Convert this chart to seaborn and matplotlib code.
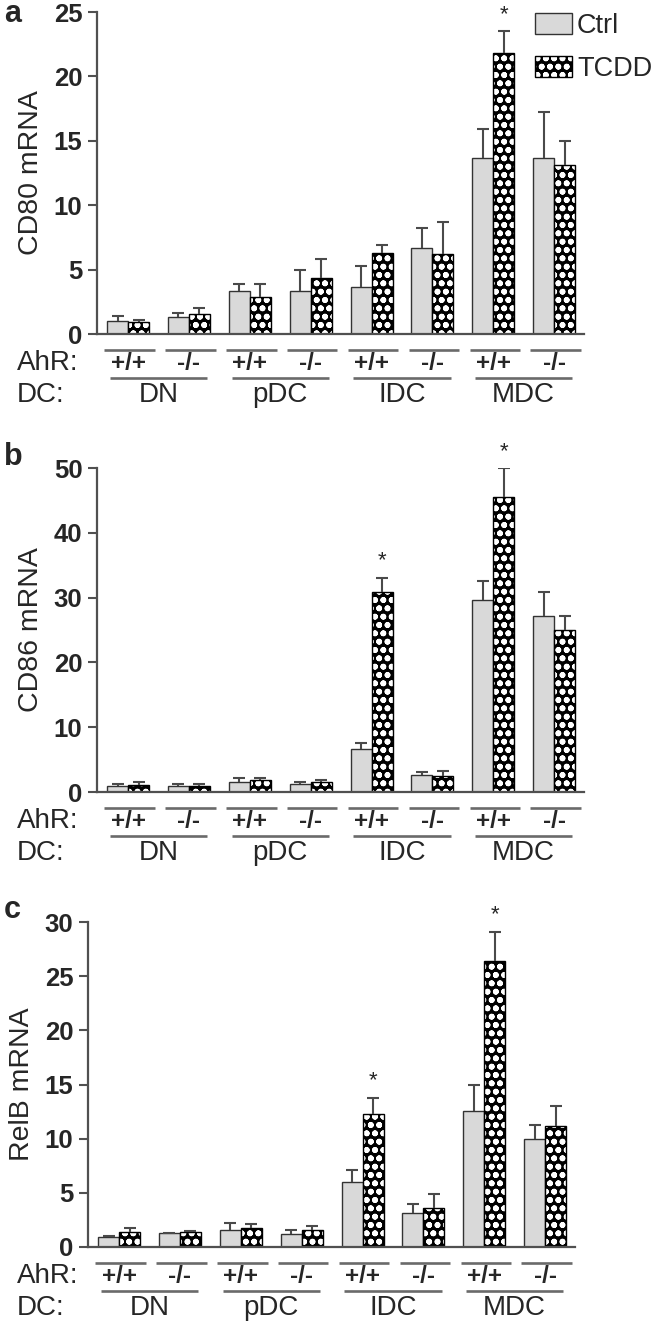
import numpy as np
import pandas as pd
import matplotlib
matplotlib.use("Agg")
import matplotlib.pyplot as plt
import matplotlib.transforms as mtransforms
from matplotlib.colors import to_rgba
import seaborn as sns

# DATA
groups = ["DN", "pDC", "IDC", "MDC"]
genotypes = ["+/+", "-/-"]
treatments = ["Ctrl", "TCDD"]

cd80_ctrl = [1.0, 1.35, 3.35, 3.35, 3.65, 6.7, 13.7, 13.7]
cd80_ctrl_err = [0.4, 0.3, 0.55, 1.6, 1.6, 1.5, 2.2, 3.5]
cd80_tcdd = [0.9, 1.55, 2.85, 4.35, 6.3, 6.2, 21.8, 13.1]
cd80_tcdd_err = [0.15, 0.45, 1.05, 1.5, 0.6, 2.5, 1.7, 1.9]
cd80_stars = [6]

cd86_ctrl = [1.0, 1.0, 1.6, 1.2, 6.6, 2.7, 29.7, 27.2]
cd86_ctrl_err = [0.2, 0.2, 0.5, 0.3, 0.9, 0.4, 2.9, 3.6]
cd86_tcdd = [1.1, 1.0, 1.8, 1.5, 30.9, 2.5, 45.6, 25.0]
cd86_tcdd_err = [0.5, 0.2, 0.3, 0.4, 2.2, 0.7, 4.4, 2.2]
cd86_stars = [4, 6]

relb_ctrl = [0.95, 1.25, 1.6, 1.2, 6.0, 3.1, 12.6, 10.0]
relb_ctrl_err = [0.05, 0.08, 0.65, 0.35, 1.1, 0.9, 2.4, 1.3]
relb_tcdd = [1.4, 1.35, 1.75, 1.6, 12.3, 3.6, 26.4, 11.2]
relb_tcdd_err = [0.35, 0.12, 0.35, 0.3, 1.5, 1.3, 2.7, 1.8]
relb_stars = [4, 6]

W, H = 656, 1325
GRAY = "#505050"
LINE_GRAY = "#6a6a6a"

sns.set_theme(style="ticks")
plt.rcParams["font.family"] = ["Liberation Sans", "DejaVu Sans"]
plt.rcParams["hatch.linewidth"] = 1.8

fig = plt.figure(figsize=(W / 100, H / 100), dpi=100)

pairs = [f"{g} {a}" for g in groups for a in genotypes]

# left px, zero-line px, top px, ymax, step, ylabel, letter, letter baseline px
panels = [
    (97, 334, 12, 25, 5, "CD80 mRNA", "a", 22,
     cd80_ctrl, cd80_ctrl_err, cd80_tcdd, cd80_tcdd_err, cd80_stars),
    (97, 792, 468, 50, 10, "CD86 mRNA", "b", 465,
     cd86_ctrl, cd86_ctrl_err, cd86_tcdd, cd86_tcdd_err, cd86_stars),
    (88, 1247, 922, 30, 5, "RelB mRNA", "c", 918,
     relb_ctrl, relb_ctrl_err, relb_tcdd, relb_tcdd_err, relb_stars),
]

AX_W = 487

for (left, zero, top, ymax, step, ylabel, letter, letter_y,
     ctrl, ctrl_err, tcdd, tcdd_err, stars) in panels:

    ax = fig.add_axes([left / W, 1 - zero / H, AX_W / W, (zero - top) / H])

    df = pd.DataFrame({
        "pair": pairs * 2,
        "treatment": ["Ctrl"] * len(pairs) + ["TCDD"] * len(pairs),
        "value": ctrl + tcdd,
    })

    sns.barplot(
        data=df, x="pair", y="value", hue="treatment",
        order=pairs, hue_order=treatments,
        palette={"Ctrl": "#d9d9d9", "TCDD": "black"},
        saturation=1, width=0.69, errorbar=None,
        edgecolor="#333333", linewidth=1.0, legend=False, ax=ax,
    )

    # checkerboard-ish white dots on the TCDD bars
    for p in ax.containers[1]:
        p.set_hatch("oo")
        p.set_edgecolor("black")
        p._hatch_color = to_rgba("white")

    # one-sided error bars
    errs = {"Ctrl": ctrl_err, "TCDD": tcdd_err}
    tops = {}
    for cont, tr in zip(ax.containers, treatments):
        xs = np.array([p.get_x() + p.get_width() / 2 for p in cont])
        hs = np.array([p.get_height() for p in cont])
        ee = np.array(errs[tr])
        _, caps, _ = ax.errorbar(
            xs, hs, yerr=[np.zeros_like(ee), ee], fmt="none",
            ecolor="#4a4a4a", elinewidth=1.5, capsize=4.2, capthick=1.5,
            zorder=3,
        )
        for c in caps:
            if np.allclose(c.get_ydata(), hs):
                c.remove()
        tops[tr] = (xs, hs + ee)

    for i in stars:
        xs, ts = tops["TCDD"]
        ax.annotate("*", xy=(xs[i], ts[i]), xytext=(0, 8),
                    textcoords="offset points", ha="center", va="baseline",
                    fontsize=16)

    ax.set_xlim(-0.51, 7.49)
    ax.set_ylim(0, ymax)
    ax.set_yticks(np.arange(0, ymax + 1, step))
    ax.set_xlabel("")
    ax.set_ylabel(ylabel, fontsize=20.5)
    ax.yaxis.set_label_coords(-0.108, 0.5)
    ax.tick_params(axis="x", bottom=False, labelbottom=False)
    ax.tick_params(axis="y", length=6.5, width=1.5, color=GRAY, pad=4,
                   labelsize=18.5)
    for lab in ax.get_yticklabels():
        lab.set_fontweight("bold")
    sns.despine(ax=ax)
    for s in ["left", "bottom"]:
        ax.spines[s].set_color(GRAY)
        ax.spines[s].set_linewidth(1.6)

    # genotype / cell type rows under the axis
    base = ax.get_xaxis_transform()

    def below(px, tr=base):
        return mtransforms.offset_copy(tr, fig=fig, x=0, y=-px, units="dots")

    for i, pr in enumerate(pairs):
        ax.plot([i - 0.39, i + 0.44], [0, 0], transform=below(16),
                color=LINE_GRAY, lw=1.9, clip_on=False, solid_capstyle="butt")
        ax.text(i, 0, pr.split(" ")[1], transform=below(36), ha="center",
                va="baseline", fontsize=17.5, fontweight="bold")
    for j, g in enumerate(groups):
        ax.plot([2 * j - 0.3, 2 * j + 1.3], [0, 0], transform=below(44),
                color=LINE_GRAY, lw=1.9, clip_on=False, solid_capstyle="butt")
        ax.text(2 * j + 0.5, 0, g, transform=below(68), ha="center",
                va="baseline", fontsize=20)

    xrow = (17 - left) / AX_W
    ax.text(xrow, 0, "AhR:", transform=below(36, ax.transAxes), ha="left",
            va="baseline", fontsize=20)
    ax.text(xrow, 0, "DC:", transform=below(68, ax.transAxes), ha="left",
            va="baseline", fontsize=20)

    fig.text(4 / W, 1 - letter_y / H, letter, fontsize=22, fontweight="bold",
             va="baseline", ha="left")

    if letter == "a":
        ax.legend(
            handles=[ax.containers[0][0], ax.containers[1][0]],
            labels=treatments, loc="upper left",
            bbox_to_anchor=(535 / W, 1 - 13 / H), bbox_transform=fig.transFigure,
            frameon=False, borderpad=0, borderaxespad=0, fontsize=19.5,
            handlelength=1.35, handleheight=0.82, handletextpad=0.2,
            labelspacing=0.62,
        )

fig.savefig("out.png", dpi=100)
